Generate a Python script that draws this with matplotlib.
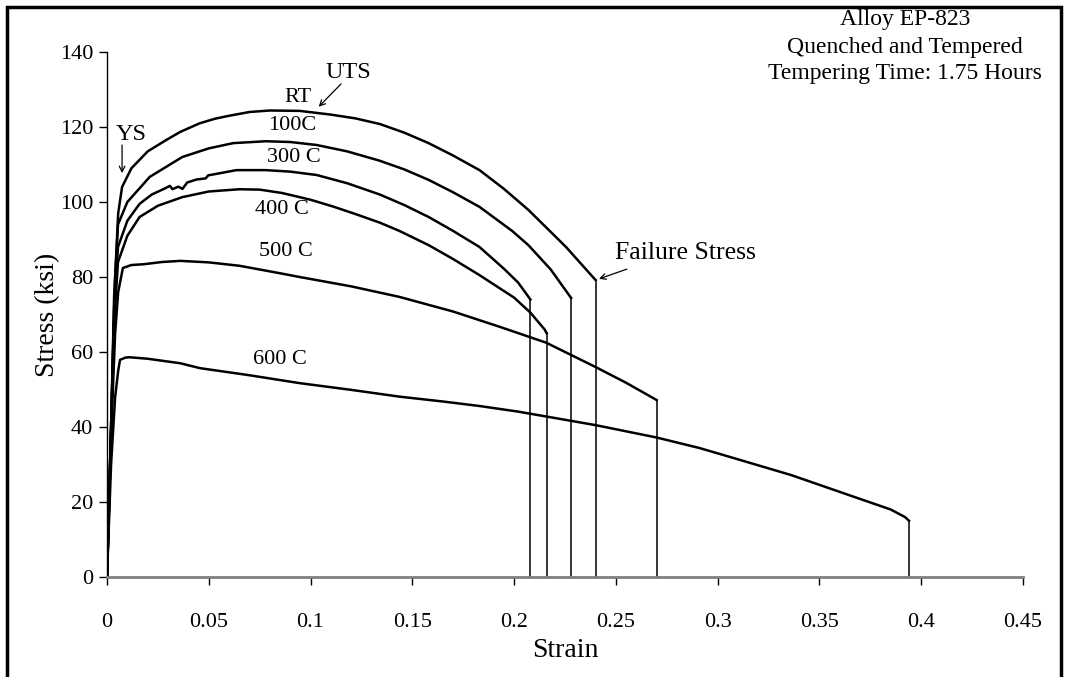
import matplotlib
matplotlib.use('Agg')
import matplotlib.pyplot as plt
from matplotlib.patches import Rectangle

plt.rcParams['font.family'] = ['Liberation Serif', 'DejaVu Serif']

# stress-strain curves (strain, stress in ksi)
rt_strain = [0, 0.002, 0.004, 0.0055, 0.0074, 0.012, 0.02, 0.029, 0.036, 0.0456, 0.053, 0.06,
             0.07, 0.08, 0.0946, 0.11, 0.122, 0.134, 0.146, 0.158, 0.17, 0.183, 0.195, 0.207,
             0.2255, 0.240, 0.240]
rt_stress = [0, 40, 80, 97, 104, 109, 113.5, 116.5, 118.7, 121, 122.2, 123,
             124, 124.4, 124.3, 123.3, 122.3, 120.8, 118.5, 115.7, 112.4, 108.5, 103.5, 97.9,
             88, 79.2, 0]

c100_strain = [0, 0.002, 0.0035, 0.0054, 0.01, 0.021, 0.037, 0.05, 0.062, 0.078, 0.09, 0.103,
               0.118, 0.134, 0.146, 0.158, 0.17, 0.183, 0.199, 0.207, 0.218, 0.228, 0.228]
c100_stress = [0, 40, 75, 94, 100, 106.7, 112, 114.3, 115.7, 116.2, 116, 115.2,
               113.5, 111, 108.7, 105.9, 102.6, 98.7, 92.3, 88.5, 82, 74.4, 0]

c300_strain = [0, 0.002, 0.0035, 0.0054, 0.01, 0.016, 0.022, 0.0284, 0.0309, 0.0322, 0.035,
               0.0371, 0.0394, 0.044, 0.0485, 0.0497, 0.0636, 0.078, 0.09, 0.103, 0.118,
               0.134, 0.146, 0.158, 0.17, 0.183, 0.195, 0.202, 0.208, 0.208]
c300_stress = [0, 40, 72, 88, 95, 99.5, 102, 103.6, 104.3, 103.4, 104.1,
               103.5, 105.2, 106, 106.3, 107.1, 108.5, 108.5, 108.1, 107.2, 105,
               102, 99.2, 96, 92.3, 88, 82.2, 78.5, 74, 0]

c400_strain = [0, 0.002, 0.0035, 0.0054, 0.01, 0.016, 0.025, 0.037, 0.05, 0.065, 0.075, 0.086,
               0.1, 0.111, 0.122, 0.134, 0.1436, 0.158, 0.17, 0.183, 0.2, 0.208, 0.215,
               0.216, 0.216]
c400_stress = [0, 38, 68, 84, 91, 96, 99, 101.3, 102.8, 103.4, 103.3, 102.4,
               100.6, 98.8, 96.8, 94.5, 92.3, 88.5, 84.8, 80.5, 74.5, 70.5, 66,
               65, 0]

c500_strain = [0, 0.002, 0.004, 0.0055, 0.0078, 0.012, 0.018, 0.027, 0.036, 0.05, 0.065, 0.085,
               0.0946, 0.12, 0.1436, 0.17, 0.193, 0.2157, 0.24, 0.255, 0.27, 0.27]
c500_stress = [0, 38, 65, 76, 82.4, 83.2, 83.4, 84, 84.3, 83.9, 83, 81,
               80, 77.5, 74.7, 70.8, 66.7, 62.5, 56, 51.8, 47.2, 0]

c600_strain = [0, 0.002, 0.004, 0.0055, 0.0064, 0.009, 0.011, 0.02, 0.036, 0.0456, 0.07,
               0.0946, 0.12, 0.1436, 0.165, 0.183, 0.202, 0.22, 0.24, 0.27, 0.291, 0.303,
               0.336, 0.369, 0.385, 0.392, 0.394, 0.394]
c600_stress = [0, 30, 48, 55, 57.9, 58.5, 58.6, 58.2, 57, 55.7, 53.8,
               51.7, 49.9, 48.1, 46.8, 45.6, 44.1, 42.4, 40.5, 37.2, 34.4, 32.5,
               27.2, 21, 18, 16, 15, 0]

curves = [(rt_strain, rt_stress), (c100_strain, c100_stress), (c300_strain, c300_stress),
          (c400_strain, c400_stress), (c500_strain, c500_stress), (c600_strain, c600_stress)]

# curve labels: text, strain, stress
curve_labels = ['RT', '100C', '300 C', '400 C', '500 C', '600 C']
label_x = [0.0936, 0.091, 0.092, 0.086, 0.088, 0.085]
label_y = [127.8, 120.3, 112, 98.1, 86.7, 57.9]

x_ticks = [0, 0.05, 0.1, 0.15, 0.2, 0.25, 0.3, 0.35, 0.4, 0.45]
x_tick_labels = ['0', '0.05', '0.1', '0.15', '0.2', '0.25', '0.3', '0.35', '0.4', '0.45']
y_ticks = [0, 20, 40, 60, 80, 100, 120, 140]

fig = plt.figure(figsize=(10.66, 6.77), dpi=100)
ax = fig.add_axes([107 / 1066, 1 - 577 / 677, (1023 - 107) / 1066, (577 - 52) / 677])

for xs, ys in curves:
    ax.plot(xs[:-1], ys[:-1], color='black', lw=1.8, solid_joinstyle='round')
    ax.plot(xs[-2:], ys[-2:], color='black', lw=1.1)

for t, lx, ly in zip(curve_labels, label_x, label_y):
    ax.text(lx, ly, t, ha='center', va='center', fontsize=16)

arrow = dict(arrowstyle='->', color='black', lw=0.9, shrinkA=0, shrinkB=0)
ax.text(0.0118, 117.9, 'YS', fontsize=17.5, ha='center', va='center')
ax.annotate('', xy=(0.0074, 107.7), xytext=(0.0074, 115.2), arrowprops=arrow)
ax.text(0.1186, 134.4, 'UTS', fontsize=17.5, ha='center', va='center')
ax.annotate('', xy=(0.104, 125.4), xytext=(0.115, 131.5), arrowprops=arrow)
ax.text(0.284, 86.4, 'Failure Stress', fontsize=18.5, ha='center', va='center')
ax.annotate('', xy=(0.2417, 79.5), xytext=(0.2554, 82.1), arrowprops=arrow)

ax.set_xlim(0, 0.45)
ax.set_ylim(0, 140)
ax.set_xticks(x_ticks)
ax.set_xticklabels(x_tick_labels)
ax.set_yticks(y_ticks)
ax.tick_params(axis='both', labelsize=16, direction='out', length=6, width=1, color='black')
ax.tick_params(axis='x', pad=20)
ax.tick_params(axis='y', pad=4)

for s in ['top', 'right']:
    ax.spines[s].set_visible(False)
ax.spines['left'].set_color('black')
ax.spines['left'].set_linewidth(1.0)
ax.spines['bottom'].set_color('#808080')
ax.spines['bottom'].set_linewidth(2.0)

ax.set_xlabel('Strain', fontsize=20, labelpad=4)
ax.set_ylabel('Stress (ksi)', fontsize=20, labelpad=0)

fig.text(905 / 1066, 1 - 20 / 677, 'Alloy EP-823', fontsize=17, ha='center', va='center')
fig.text(905 / 1066, 1 - 47 / 677, 'Quenched and Tempered', fontsize=17, ha='center', va='center')
fig.text(905 / 1066, 1 - 73 / 677, 'Tempering Time: 1.75 Hours', fontsize=17, ha='center', va='center')

# outer frame (bottom edge falls outside the image)
fig.patches.append(Rectangle((7 / 1066, -0.05), (1061 - 7) / 1066, 1.05 - 7 / 677,
                             transform=fig.transFigure, fill=False, ec='black', lw=2.5))

fig.savefig('out.png', dpi=100)
